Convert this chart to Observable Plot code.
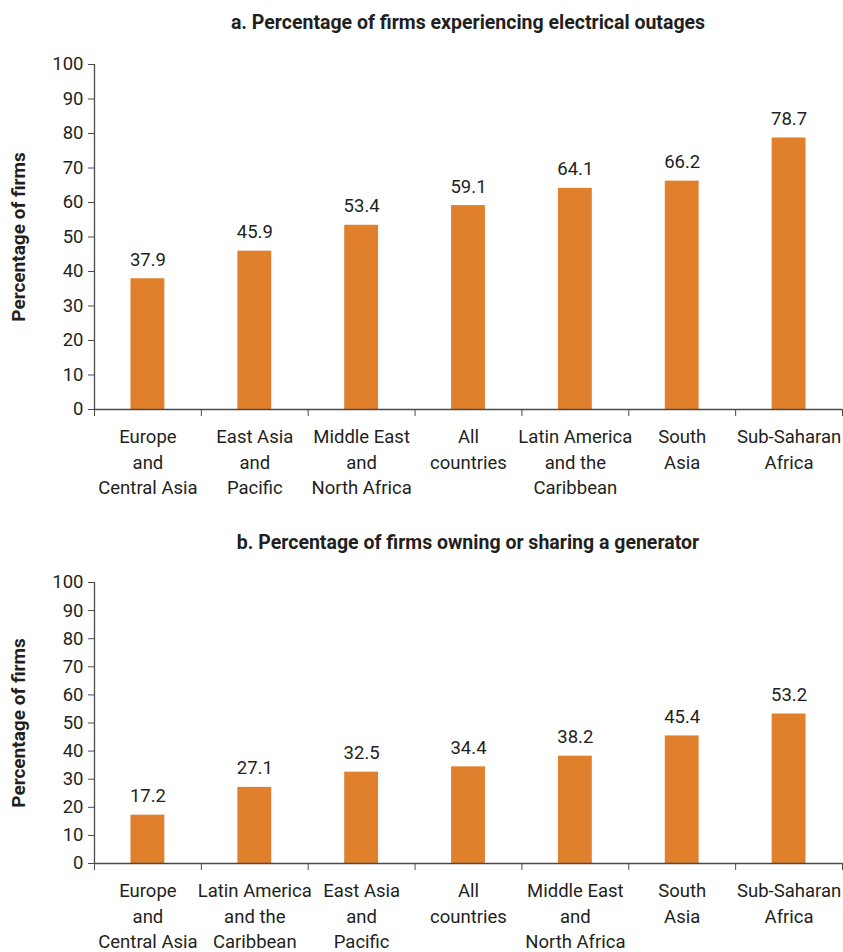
<!DOCTYPE html>
<html>
<head>
<meta charset="utf-8">
<script src="https://cdn.jsdelivr.net/npm/d3@7"></script>
<script src="https://cdn.jsdelivr.net/npm/@observablehq/plot@0.6"></script>
<style>
  html, body { margin: 0; padding: 0; background: #fff; overflow: hidden; }
  #root { position: relative; width: 843px; height: 952px; font-family: Roboto, sans-serif; color: #231f20; }
  .title { position: absolute; left: 94px; width: 748px; text-align: center; font-weight: bold; font-size: 19.5px; line-height: 20px; }
  .panel { position: absolute; left: 0; }
</style>
</head>
<body>
<div id="root">
  <div class="title" style="top:13px">a. Percentage of firms experiencing electrical outages</div>
  <div class="panel" id="pa" style="top:40px"></div>
  <div class="title" style="top:533px">b. Percentage of firms owning or sharing a generator</div>
  <div class="panel" id="pb" style="top:556px"></div>
</div>
<script>
const categoriesA = ["Europe\nand\nCentral Asia", "East Asia\nand\nPacific", "Middle East\nand\nNorth Africa", "All\ncountries", "Latin America\nand the\nCaribbean", "South\nAsia", "Sub-Saharan\nAfrica"];
const valuesA = [37.9, 45.9, 53.4, 59.1, 64.1, 66.2, 78.7];

const categoriesB = ["Europe\nand\nCentral Asia", "Latin America\nand the\nCaribbean", "East Asia\nand\nPacific", "All\ncountries", "Middle East\nand\nNorth Africa", "South\nAsia", "Sub-Saharan\nAfrica"];
const valuesB = [17.2, 27.1, 32.5, 34.4, 38.2, 45.4, 53.2];

const yTicks = [0, 10, 20, 30, 40, 50, 60, 70, 80, 90, 100];
const yLabel = "Percentage of firms";

const BAR = "#e07f2c";
const INK = "#231f20";
const AXIS = "#4a4a4a";
const FONT = "Roboto";
const FS = 18.5;

function panel(cats, vals, opts) {
  const n = cats.length;
  const data = cats.map((c, i) => ({i, c, v: vals[i]}));
  return Plot.plot({
    width: 843,
    height: opts.height,
    marginLeft: 94,
    marginRight: 1,
    marginTop: opts.marginTop,
    marginBottom: opts.marginBottom,
    style: {fontFamily: FONT, fontSize: FS + "px", color: INK, background: "#fff"},
    x: {domain: [0, n], axis: null},
    y: {domain: [0, 100], axis: null},
    marks: [
      Plot.rectY(data, {x1: "i", x2: d => d.i + 1, y: "v", fill: BAR, insetLeft: 36.5, insetRight: 36.5}),
      Plot.axisY({ticks: yTicks, tickSize: 6, tickPadding: 5, stroke: AXIS, fill: INK, fontSize: FS, tickFormat: d => d, label: null}),
      Plot.ruleX([0], {stroke: AXIS, strokeWidth: 1.3}),
      Plot.axisX({ticks: d3.range(n + 1), tickSize: 7, stroke: AXIS, tickFormat: () => "", label: null}),
      Plot.ruleY([0], {stroke: AXIS, strokeWidth: 1.3}),
      Plot.text(data, {x: d => d.i + 0.5, y: 0, text: "c", lineAnchor: "top", dy: opts.labelDy, lineHeight: 1.38, fill: INK, fontSize: FS}),
      Plot.text(data, {x: d => d.i + 0.5, y: "v", text: d => d.v.toFixed(1), lineAnchor: "bottom", dy: -13, fill: INK, fontSize: FS}),
      Plot.text([yLabel], {frameAnchor: "left", textAnchor: "middle", rotate: -90, dx: -76, fontWeight: "bold", fontSize: 19, fill: INK})
    ]
  });
}

document.getElementById("pa").append(panel(categoriesA, valuesA, {height: 470, marginTop: 24, marginBottom: 101, labelDy: 15.5}));
document.getElementById("pb").append(panel(categoriesB, valuesB, {height: 396, marginTop: 26, marginBottom: 89, labelDy: 15.5}));
</script>
</body>
</html>
